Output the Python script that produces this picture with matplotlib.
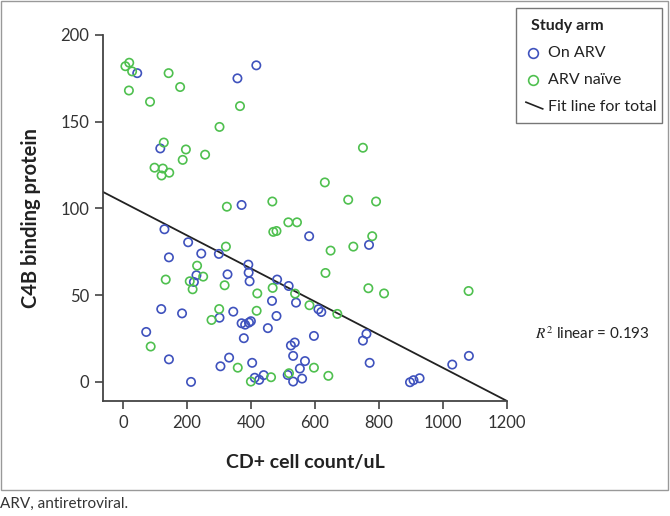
import matplotlib
matplotlib.use("Agg")
import matplotlib.pyplot as plt
from matplotlib.lines import Line2D
from matplotlib.patches import Rectangle

plt.rcParams['font.family'] = ['Lato', 'DejaVu Sans']
plt.rcParams['mathtext.fontset'] = 'stix'

# On ARV (blue)
on_arv_x = [45, 358, 417, 117, 371, 130, 204, 582, 144, 245, 300, 392, 393, 327, 396,
            230, 222, 482, 518, 466, 541, 120, 185, 345, 302, 480, 611, 620, 371, 382,
            394, 400, 453, 73, 378, 597, 525, 537, 532, 144, 332, 305, 404, 569, 553,
            440, 412, 426, 515, 532, 560, 213, 769, 761, 750, 771, 1081, 1029, 897,
            908, 927]
on_arv_y = [178, 175, 182.5, 134.6, 102, 88, 80.5, 84, 71.8, 74, 73.8, 67.6, 63, 62, 58,
            61.5, 57.6, 59, 55.3, 46.7, 45.7, 42, 39.5, 40.5, 37, 38, 41.9, 40.3, 33.8, 33,
            34.2, 35, 31, 28.8, 25.2, 26.5, 21, 22.7, 15, 13, 14, 9, 11, 12, 7.7,
            3.9, 2.4, 1.2, 4, 0.2, 1.9, 0, 79, 27.7, 23.8, 11, 15, 10, -0.2,
            1, 2.1]

# ARV naive (green)
naive_x = [20, 8, 29, 19, 143, 179, 85, 366, 302, 128, 197, 257, 187, 99, 125, 145, 121,
           325, 467, 750, 631, 704, 791, 517, 544, 470, 480, 322, 232, 251, 134, 209,
           218, 318, 468, 420, 538, 301, 418, 583, 277, 87, 359, 597, 519, 463, 400,
           779, 720, 649, 633, 767, 816, 1080, 670, 642]
naive_y = [184, 182, 179, 168, 178, 170, 161.5, 159, 147, 138, 134, 131, 128, 123.5, 123,
           120.6, 119, 101, 104, 135, 115, 105, 104, 92, 92, 86.5, 87, 78, 67, 60.7,
           59, 58, 53.4, 55.7, 54.2, 51, 50.9, 42, 41, 44.2, 35.7, 20.4, 8.2, 8.2, 5,
           2.7, 0.2, 84, 78, 75.7, 62.8, 54, 51, 52.4, 39.2, 3.5]

# fit line for total
fit_intercept = 103.6
fit_slope = -0.0955
fit_x = [-62, 1200]

blue = '#3f52bd'
green = '#4fc04f'

fig = plt.figure(figsize=(6.7, 5.16), dpi=100)
ax = fig.add_axes([0.1537, 0.2229, 0.603, 0.7093])

ax.scatter(on_arv_x, on_arv_y, s=36, facecolors='none', edgecolors=blue, linewidths=1.2, zorder=3)
ax.scatter(naive_x, naive_y, s=36, facecolors='none', edgecolors=green, linewidths=1.2, zorder=3)
ax.plot(fit_x, [fit_intercept + fit_slope * v for v in fit_x], color='#222222', lw=1.3, zorder=2)

ax.set_xlim(-62, 1200)
ax.set_ylim(-11, 200)
ax.set_xticks([0, 200, 400, 600, 800, 1000, 1200])
ax.set_yticks([0, 50, 100, 150, 200])
for s in ['top', 'right']:
    ax.spines[s].set_visible(False)
for s in ['left', 'bottom']:
    ax.spines[s].set_color('#444444')
    ax.spines[s].set_linewidth(1.3)
ax.tick_params(direction='out', length=6, width=1.2, color='#444444',
               labelsize=12, labelcolor='#333333', pad=4)
ax.set_xlabel('CD+ cell count/uL', fontsize=14, fontweight='bold', labelpad=17, color='#222222')
ax.set_ylabel('C4B binding protein', fontsize=14.5, fontweight='bold', labelpad=14, color='#222222')

# R2 annotation
fig.text(0.8836, 0.3527, r'$R^2$ linear = 0.193', fontsize=11, ha='center', va='center', color='#222222')

# legend box drawn by hand
fig.patches.append(Rectangle((0.770, 0.7616), 0.218, 0.2229, transform=fig.transFigure,
                             facecolor='white', edgecolor='#777777', lw=1.0))
fig.text(0.7925, 0.9496, 'Study arm', fontsize=11.5, fontweight='bold', va='center', color='#222222')
fig.lines.append(Line2D([0.7955], [0.897], marker='o', ms=7, mfc='none', mec=blue, mew=1.2,
                        transform=fig.transFigure))
fig.text(0.818, 0.897, 'On ARV', fontsize=11.5, va='center', color='#222222')
fig.lines.append(Line2D([0.7955], [0.845], marker='o', ms=7, mfc='none', mec=green, mew=1.2,
                        transform=fig.transFigure))
fig.text(0.818, 0.845, 'ARV naïve', fontsize=11.5, va='center', color='#222222')
fig.lines.append(Line2D([0.785, 0.810], [0.802, 0.789], color='#222222', lw=1.2,
                        transform=fig.transFigure))
fig.text(0.818, 0.793, 'Fit line for total', fontsize=11.5, va='center', color='#222222')

# outer frame and caption
fig.patches.append(Rectangle((0.0015, 0.0504), 0.996, 0.947, transform=fig.transFigure,
                             facecolor='none', edgecolor='#999999', lw=1.0))
fig.text(0.0, 0.016, 'ARV, antiretroviral.', fontsize=11, color='#333333')

fig.savefig('out.png', dpi=100)
